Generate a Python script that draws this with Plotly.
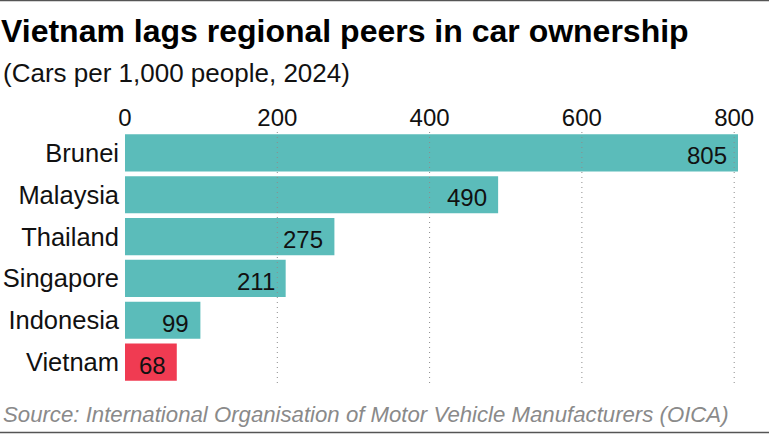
import plotly.graph_objects as go

countries = ["Brunei", "Malaysia", "Thailand", "Singapore", "Indonesia", "Vietnam"]
cars_per_1000 = [805, 490, 275, 211, 99, 68]
tick_values = [0, 200, 400, 600, 800]
highlight = "Vietnam"

TEAL = "#5bbcba"
RED = "#f03b52"
FONT = "Liberation Sans, Arial, sans-serif"

colors = [RED if c == highlight else TEAL for c in countries]

fig = go.Figure()
fig.add_trace(go.Bar(
    x=cars_per_1000, y=countries, orientation="h",
    marker=dict(color=colors, line=dict(width=0)),
    hoverinfo="skip",
))

annotations = []
for c, v in zip(countries, cars_per_1000):
    annotations.append(dict(
        x=v, y=c, xref="x", yref="y", text=str(v), showarrow=False,
        xanchor="right", yanchor="middle", xshift=-9, yshift=-3,
        font=dict(family=FONT, size=24, color="#111111"),
    ))

# plot area: x 125..738 px, y 132..383 px
L, R, T, B = 125, 738, 132, 383
W, H = 769, 434
pw, ph = R - L, B - T

def px_x(x):
    return (x - L) / pw

def px_y(y):
    return (B - y) / ph

annotations.append(dict(
    xref="paper", yref="paper", x=px_x(1), y=px_y(73),
    xanchor="left", yanchor="middle", showarrow=False,
    text="(Cars per 1,000 people, 2024)",
    font=dict(family=FONT, size=26, color="#111111"),
))
annotations.append(dict(
    xref="paper", yref="paper", x=px_x(1), y=px_y(414),
    xanchor="left", yanchor="middle", showarrow=False,
    text="<i>Source: International Organisation of Motor Vehicle Manufacturers (OICA)</i>",
    font=dict(family=FONT, size=22.2, color="#8a8a8a"),
))

shapes = []
for t in tick_values[1:]:
    shapes.append(dict(
        type="line", xref="x", yref="paper", x0=t, x1=t, y0=0, y1=1,
        line=dict(color="#8c8c8c", width=1, dash="1px,4px"), layer="above",
    ))
for yy in (0.5, 432.5):
    shapes.append(dict(
        type="line", xref="paper", yref="paper", x0=px_x(0), x1=px_x(W),
        y0=px_y(yy), y1=px_y(yy), line=dict(color="#555555", width=1.5),
    ))

fig.update_layout(
    width=W, height=H,
    margin=dict(l=L, r=W - R, t=T, b=H - B),
    paper_bgcolor="white", plot_bgcolor="white",
    bargap=0.11,
    showlegend=False,
    title=dict(
        text="<b>Vietnam lags regional peers in car ownership</b>",
        x=1 / W, xanchor="left", xref="container",
        y=1 - 31 / H, yanchor="middle", yref="container",
        font=dict(family=FONT, size=32, color="#000000"),
        automargin=False,
    ),
    xaxis=dict(
        range=[0, 805], side="top", tickvals=tick_values,
        ticktext=[str(t) for t in tick_values],
        showgrid=False, zeroline=False, showline=False, ticks="",
        tickfont=dict(family=FONT, size=24, color="#111111"),
        fixedrange=True, automargin=False,
    ),
    yaxis=dict(
        autorange="reversed", showgrid=False, zeroline=False, showline=False,
        ticks="", tickfont=dict(family=FONT, size=25.5, color="#111111"),
        ticklabelstandoff=5,
        fixedrange=True, automargin=False,
    ),
    annotations=annotations,
    shapes=shapes,
)

fig.write_html("out.html")
